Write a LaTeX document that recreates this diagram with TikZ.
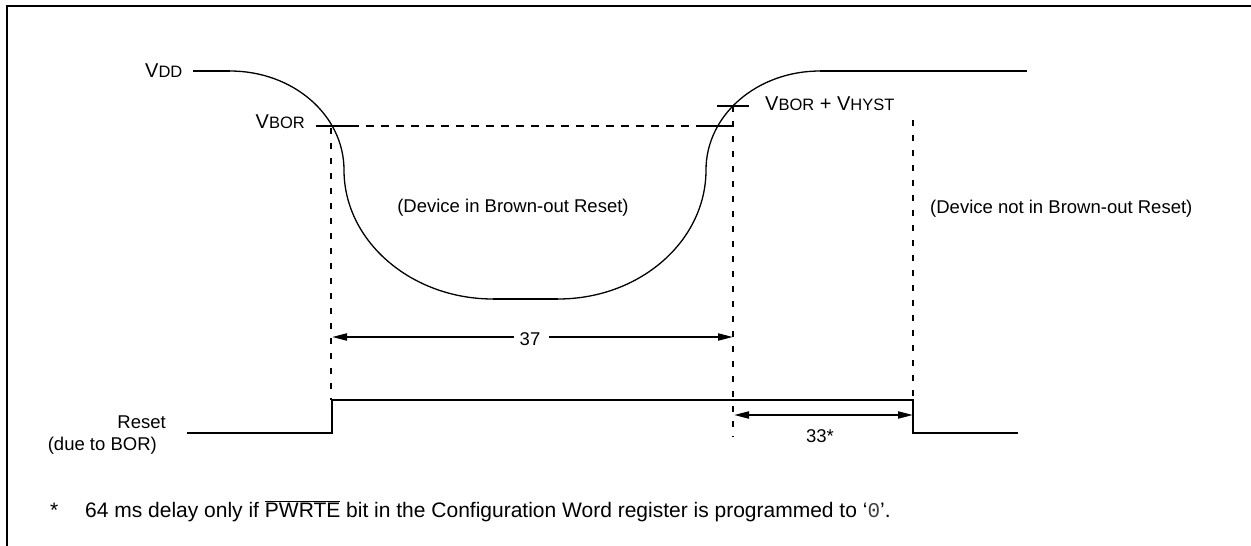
\documentclass[tikz,border=0pt]{standalone}
\usepackage{fontspec}
\setmainfont{Liberation Sans}
\setmonofont{Liberation Mono}
\usetikzlibrary{arrows.meta}
\newcommand{\lblfont}{\fontsize{18.5}{22}\selectfont}
\newcommand{\fnfont}{\fontsize{21}{25}\selectfont}
\newcommand{\vbig}{\fontsize{20}{22}\selectfont}
\newcommand{\vsmall}{\fontsize{16.5}{18}\selectfont}
\begin{document}
\begin{tikzpicture}[x=1pt,y=-1pt,
  txt/.style={inner sep=0pt, font=\lblfont},
  fntxt/.style={inner sep=0pt, font=\fnfont},
  frameline/.style={line width=2.6pt},
  wave/.style={line width=1.3pt},
  thickw/.style={line width=2.8pt},
  resetline/.style={line width=2.5pt},
  hdash/.style={line width=2pt, dash pattern=on 8pt off 7pt},
  vdash/.style={line width=2pt, dash pattern=on 6pt off 9pt},
  tickline/.style={line width=2.5pt},
  dimline/.style={line width=2pt, -{Triangle[length=15pt,width=7pt]}},
  dimboth/.style={line width=2pt, {Triangle[length=15pt,width=7pt]}-{Triangle[length=15pt,width=7pt]}}
]
\useasboundingbox (0,0) rectangle (1251,546);
% frame
\coordinate (fBL) at (7,546);
\coordinate (fTL) at (7,6);
\coordinate (fTR) at (1251,6);
\draw[frameline] (fBL) -- (fTL) -- (fTR);

% VDD waveform
\coordinate (vddL) at (193,71);
\coordinate (vddA) at (230,71);
\coordinate (k1) at (344,170);
\coordinate (botL) at (493,299);
\coordinate (botR) at (558,299);
\coordinate (k2) at (706,170);
\coordinate (topR) at (820,71);
\coordinate (vddE) at (1027,71);
\draw[thickw] (vddL) -- (vddA);
\draw[wave] (vddA) .. controls (293,71) and (344,115) .. (k1)
  .. controls (344,241) and (411,299) .. (botL);
\draw[thickw] (botL) -- (botR);
\draw[wave] (botR) .. controls (640,299) and (706,241) .. (k2)
  .. controls (706,115) and (757,71) .. (topR);
\draw[thickw] (topR) -- (vddE);

% VBOR level
\coordinate (b1) at (316,126);
\coordinate (b2) at (351,126);
\coordinate (b3) at (701,126);
\coordinate (b4) at (733,126);
\draw[tickline] (b1) -- (b2);
\draw[hdash] (b2) -- (b3);
\draw[tickline] (b3) -- (b4);
\coordinate (h1) at (717,106);
\coordinate (h2) at (749,106);
\draw[tickline] (h1) -- (h2);

% vertical dashed markers
\coordinate (d1t) at (331,128);
\coordinate (d1b) at (331,400);
\coordinate (d2t) at (733,106);
\coordinate (d2b) at (733,437);
\coordinate (d3t) at (913,120);
\coordinate (d3b) at (913,400);
\draw[vdash] (d1t) -- (d1b);
\draw[vdash] (d2t) -- (d2b);
\draw[vdash] (d3t) -- (d3b);

% reset signal
\coordinate (r0) at (187,433);
\coordinate (r1) at (332,433);
\coordinate (r2) at (332,400);
\coordinate (r3) at (913,400);
\coordinate (r4) at (913,433);
\coordinate (r5) at (1018,433);
\draw[resetline] (r0) -- (r1) -- (r2) -- (r3) -- (r4) -- (r5);

% labels
\node[txt, anchor=base west] (vdd) at (145,77) {\vbig V\vsmall DD};
\node[txt, anchor=base east] (vbor) at (305,128) {\vbig V\vsmall BOR};
\node[txt, anchor=base west] (vhyst) at (765,110) {\vbig V\vsmall BOR\vbig{} + V\vsmall HYST};
\node[txt, anchor=base] (inbor) at (513,212) {(Device in Brown-out Reset)};
\node[txt, anchor=base west] (notbor) at (930,213) {(Device not in Brown-out Reset)};
\node[txt, anchor=base east] (rst1) at (166,428) {Reset};
\node[txt, anchor=base east] (rst2) at (157,450) {(due to BOR)};

% 37 dimension
\coordinate (a37L) at (332,337);
\coordinate (a37R) at (733,337);
\node[txt, anchor=base] (n37) at (530,345) {37};
\draw[dimline] ([xshift=-6pt]n37.west |- a37L) -- (a37L);
\draw[dimline] ([xshift=9pt]n37.east |- a37R) -- (a37R);

% 33* dimension
\coordinate (a33L) at (734,415);
\coordinate (a33R) at (913,415);
\draw[dimboth] (a33L) -- (a33R);
\node[txt, anchor=base] (n33) at (820,442) {33*};

% footnote
\node[fntxt, anchor=base west] (star) at (50,517) {*};
\node[fntxt, anchor=base west] (fn) at (85,517) {64 ms delay only if $\overline{\mbox{PWRTE}}$ bit in the Configuration Word register is programmed to ‘{\ttfamily\color{black!75}0}’.};
\end{tikzpicture}
\end{document}
